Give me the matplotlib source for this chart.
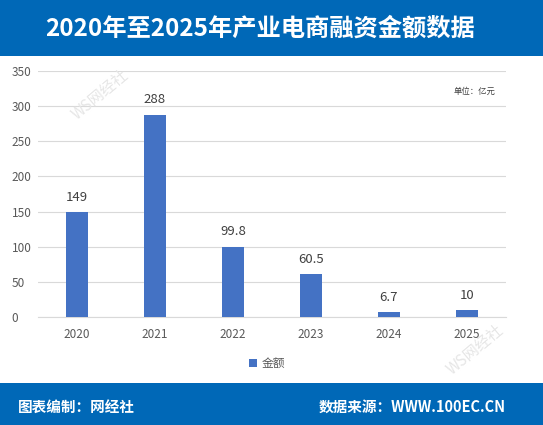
import matplotlib
matplotlib.use("Agg")
import matplotlib.pyplot as plt
from matplotlib.patches import Rectangle

plt.rcParams['font.family'] = ['Noto Sans CJK SC', 'DejaVu Sans']

years = ["2020", "2021", "2022", "2023", "2024", "2025"]
amounts = [149, 288, 99.8, 60.5, 6.7, 10]
amount_labels = ["149", "288", "99.8", "60.5", "6.7", "10"]
y_ticks = [0, 50, 100, 150, 200, 250, 300, 350]

banner_blue = "#0068B7"
bar_blue = "#4472C4"
text_gray = "#595959"

fig = plt.figure(figsize=(5.43, 4.25), dpi=100)
fig.patch.set_facecolor("white")

# top and bottom banners
fig.patches.append(Rectangle((0, 1 - 56 / 425), 1, 56 / 425, transform=fig.transFigure,
                             facecolor=banner_blue, edgecolor="none", zorder=0))
fig.patches.append(Rectangle((0, 0), 1, 42 / 425, transform=fig.transFigure,
                             facecolor=banner_blue, edgecolor="none", zorder=0))

fig.text(260 / 543, 1 - 29 / 425, "2020年至2025年产业电商融资金额数据", color="white",
         fontsize=17.5, fontweight="bold", ha="center", va="center")
fig.text(18 / 543, 1 - 407 / 425, "图表编制：网经社", color="white",
         fontsize=10.5, fontweight="bold", ha="left", va="center")
fig.text(506 / 543, 1 - 407 / 425, "数据来源：WWW.100EC.CN", color="white",
         fontsize=10.5, fontweight="bold", ha="right", va="center")

ax = fig.add_axes([38 / 543, 108 / 425, 468 / 543, 246 / 425])
x = range(len(years))
ax.bar(x, amounts, width=0.28, color=bar_blue, label="金额", zorder=3)
for i, v in enumerate(amounts):
    ax.text(i, v + 12, amount_labels[i], ha="center", va="bottom",
            fontsize=9.5, color="#404040")

ax.set_xlim(-0.5, len(years) - 0.5)
ax.set_ylim(0, 350)
ax.set_yticks(y_ticks)
ax.set_xticks(list(x))
ax.set_xticklabels(years)
ax.tick_params(axis="both", length=0, labelsize=8.5, colors=text_gray)
ax.tick_params(axis="x", pad=8)
ax.tick_params(axis="y", pad=19)
for lab in ax.get_yticklabels():
    lab.set_horizontalalignment("left")
ax.grid(axis="y", color="#d9d9d9", linewidth=0.8, zorder=0)
for s in ["top", "right", "left"]:
    ax.spines[s].set_visible(False)
ax.spines["bottom"].set_color("#d9d9d9")

ax.legend(loc="upper center", bbox_to_anchor=(0.49, -0.12), frameon=False,
          fontsize=8.5, handlelength=0.7, handleheight=0.7, handletextpad=0.4,
          labelcolor=text_gray)

fig.text(495 / 543, 1 - 91 / 425, "单位：亿元", fontsize=6, color="#404040",
         ha="right", va="center")

# faint watermarks
fig.text(100 / 543, 1 - 95 / 425, "WS网经社", fontsize=11, color="#e6e6e6",
         rotation=40, ha="center", va="center", zorder=1)
fig.text(475 / 543, 1 - 350 / 425, "WS网经社", fontsize=11, color="#e6e6e6",
         rotation=40, ha="center", va="center", zorder=1)

fig.savefig("out.png", dpi=100)
